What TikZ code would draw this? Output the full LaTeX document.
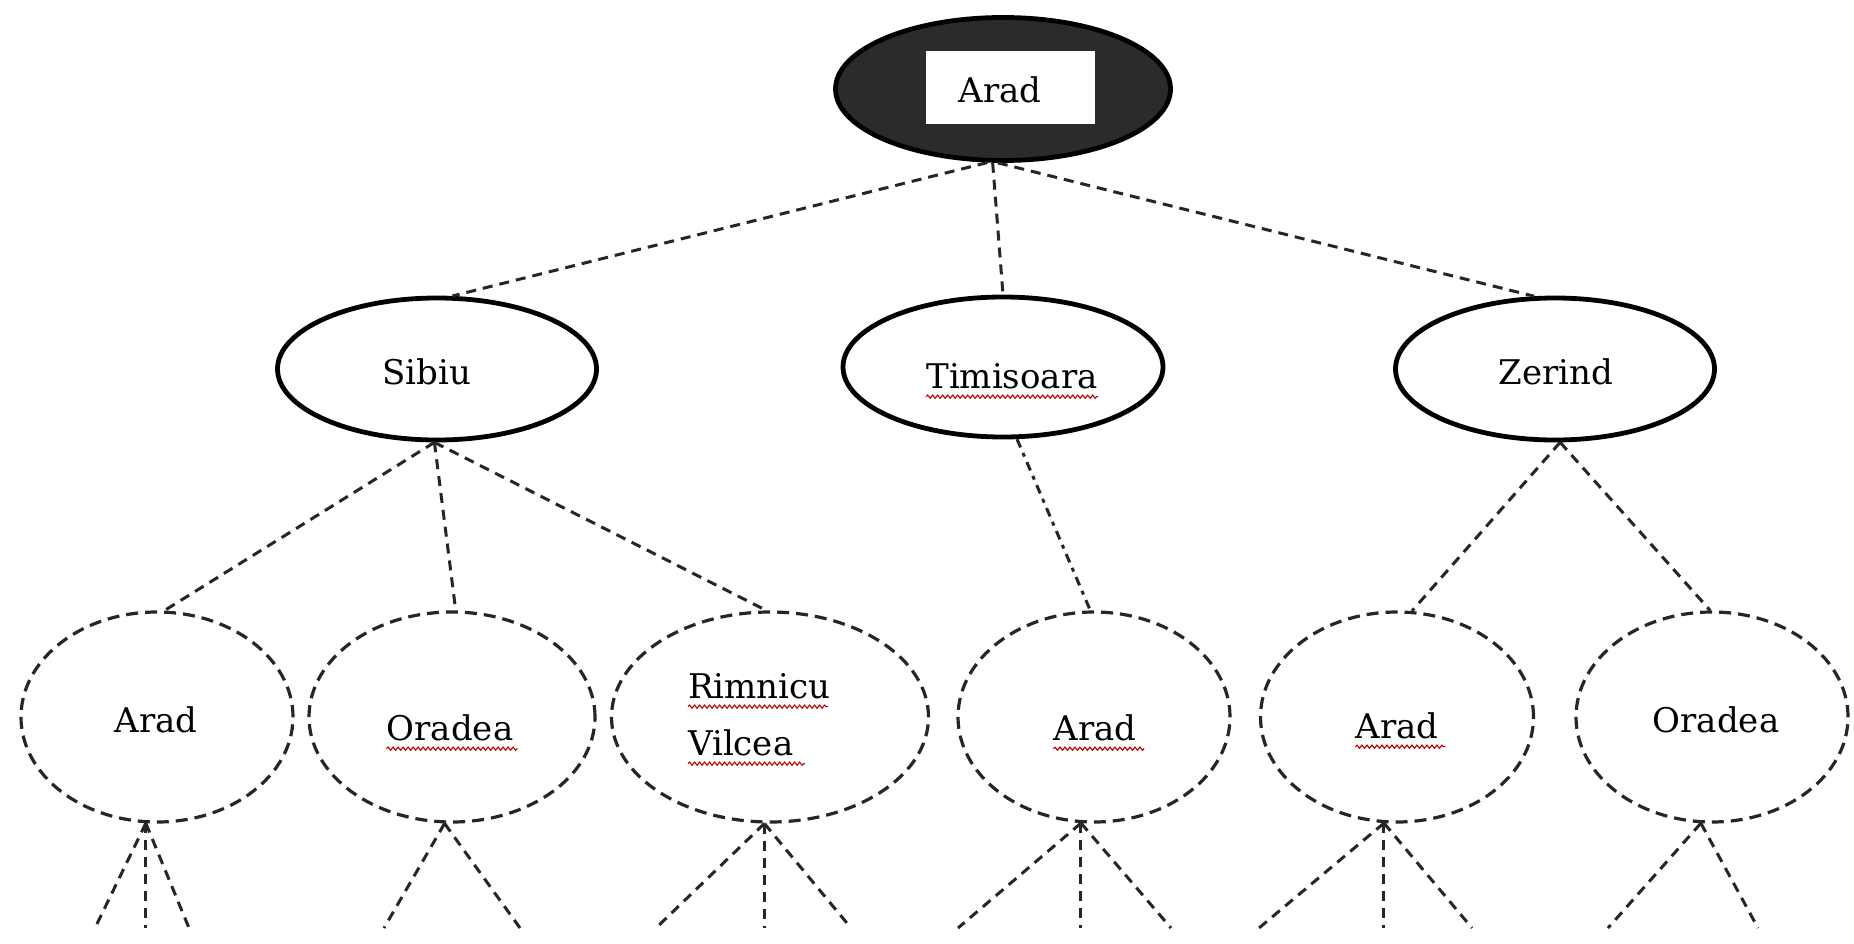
\documentclass[tikz,border=0pt]{standalone}
\usepackage{fontspec}
\setmainfont{DejaVu Serif}
\usetikzlibrary{shapes.geometric,decorations.pathmorphing}
\begin{document}
\begin{tikzpicture}[x=1pt,y=-1pt,
  solidell/.style={ellipse,draw=black,line width=4.8pt,inner sep=0pt,fill=white},
  rootell/.style={ellipse,draw=black,line width=4.8pt,inner sep=0pt,fill=black!83},
  dashell/.style={ellipse,draw=black!85,line width=3.2pt,inner sep=0pt,dash pattern=on 12pt off 7pt,fill=white},
  conn/.style={draw=black!85,line width=3pt,dash pattern=on 10pt off 7pt},
  conndd/.style={draw=black!85,line width=3pt,dash pattern=on 9pt off 6pt on 4pt off 6pt},
  lbl/.style={inner sep=0pt,anchor=base,font=\fontsize{34}{57}\selectfont},
  squig/.style={draw=red!75!black,line width=1.1pt,decorate,decoration={snake,amplitude=1.6pt,segment length=5pt}}
]
\useasboundingbox (0,0) rectangle (1854,944);
\fill[white] (0,0) rectangle (1854,944);

% ellipses
\node[rootell,minimum width=335pt,minimum height=143pt] (root) at (1003,89) {};
\node[fill=white,inner sep=0pt,minimum width=169pt,minimum height=73pt] (rootbox) at (1010,88) {};
\node[solidell,minimum width=319pt,minimum height=142pt] (sibiu) at (437,369) {};
\node[solidell,minimum width=320pt,minimum height=140pt] (timi) at (1003,367) {};
\node[solidell,minimum width=319pt,minimum height=142pt] (zerind) at (1555,369) {};

\node[dashell,minimum width=272pt,minimum height=210pt] (arad1) at (157,717) {};
\node[dashell,minimum width=286pt,minimum height=210pt] (orad1) at (452,717) {};
\node[dashell,minimum width=317pt,minimum height=210pt] (rimn) at (770,717) {};
\node[dashell,minimum width=272pt,minimum height=210pt] (arad2) at (1094,717) {};
\node[dashell,minimum width=273pt,minimum height=210pt] (arad3) at (1397,717) {};
\node[dashell,minimum width=272pt,minimum height=210pt] (orad2) at (1712,717) {};

% tree connectors
\draw[conn] (root.258) -- (sibiu.78);
\draw[conn] (root.262) -- (timi.north);
\draw[conn] (root.266) -- (zerind.106);

\draw[conn] (sibiu.268) -- (arad1.86);
\draw[conn] (sibiu.268) -- (orad1.88);
\draw[conn] (sibiu.268) -- (rimn.92);
\draw[conndd] (timi.281) -- (arad2.92);
\draw[conn] (zerind.274) -- (arad3.82);
\draw[conn] (zerind.274) -- (orad2.91);

% stubs below the bottom row
\coordinate (bot) at (0,928);
\coordinate (a1l) at (95,928);  \coordinate (a1m) at (arad1.264 |- bot); \coordinate (a1r) at (189,928);
\coordinate (o1l) at (384,928); \coordinate (o1r) at (520,928);
\coordinate (r1l) at (656,928); \coordinate (r1m) at (rimn.267 |- bot); \coordinate (r1r) at (851,928);
\coordinate (a2l) at (958,928); \coordinate (a2m) at (arad2.263 |- bot); \coordinate (a2r) at (1171,928);
\coordinate (a3l) at (1259,928); \coordinate (a3m) at (arad3.263 |- bot); \coordinate (a3r) at (1472,928);
\coordinate (o2l) at (1608,928); \coordinate (o2r) at (1758,928);

\draw[conn] (arad1.264) -- (a1l);
\draw[conn] (arad1.264) -- (a1m);
\draw[conn] (arad1.264) -- (a1r);
\draw[conn] (orad1.266) -- (o1l);
\draw[conn] (orad1.266) -- (o1r);
\draw[conn] (rimn.267) -- (r1l);
\draw[conn] (rimn.267) -- (r1m);
\draw[conn] (rimn.267) -- (r1r);
\draw[conn] (arad2.263) -- (a2l);
\draw[conn] (arad2.263) -- (a2m);
\draw[conn] (arad2.263) -- (a2r);
\draw[conn] (arad3.263) -- (a3l);
\draw[conn] (arad3.263) -- (a3m);
\draw[conn] (arad3.263) -- (a3r);
\draw[conn] (orad2.264) -- (o2l);
\draw[conn] (orad2.264) -- (o2r);

% labels
\node[lbl] (t-root) at (1000,103) {Arad};
\node[lbl] (t-sibiu) at (427,384) {Sibiu};
\node[lbl] (t-timi) at (1012,388) {Timisoara};
\node[lbl] (t-zerind) at (1556,384) {Zerind};
\node[lbl] (t-arad1) at (156,732) {Arad};
\node[lbl] (t-orad1) at (450,740) {Oradea};
\node[lbl,anchor=base west] (t-rimn) at (688,698) {Rimnicu};
\node[lbl,anchor=base west] (t-vil) at (688,755) {Vilcea};
\node[lbl] (t-arad2) at (1095,740) {Arad};
\node[lbl] (t-arad3) at (1397,738) {Arad};
\node[lbl] (t-orad2) at (1716,732) {Oradea};

% spell-check squiggles
\draw[squig] (t-timi.south west) ++(0,8) -- ++(172,0);
\draw[squig] (t-orad1.south west) ++(0,8) -- ++(131,0);
\draw[squig] (t-rimn.south west) ++(0,8) -- ++(140,0);
\draw[squig] (t-vil.south west) ++(0,8) -- ++(117,0);
\draw[squig] (t-arad2.south west) ++(0,8) -- ++(91,0);
\draw[squig] (t-arad3.south west) ++(0,8) -- ++(90,0);
\end{tikzpicture}
\end{document}
